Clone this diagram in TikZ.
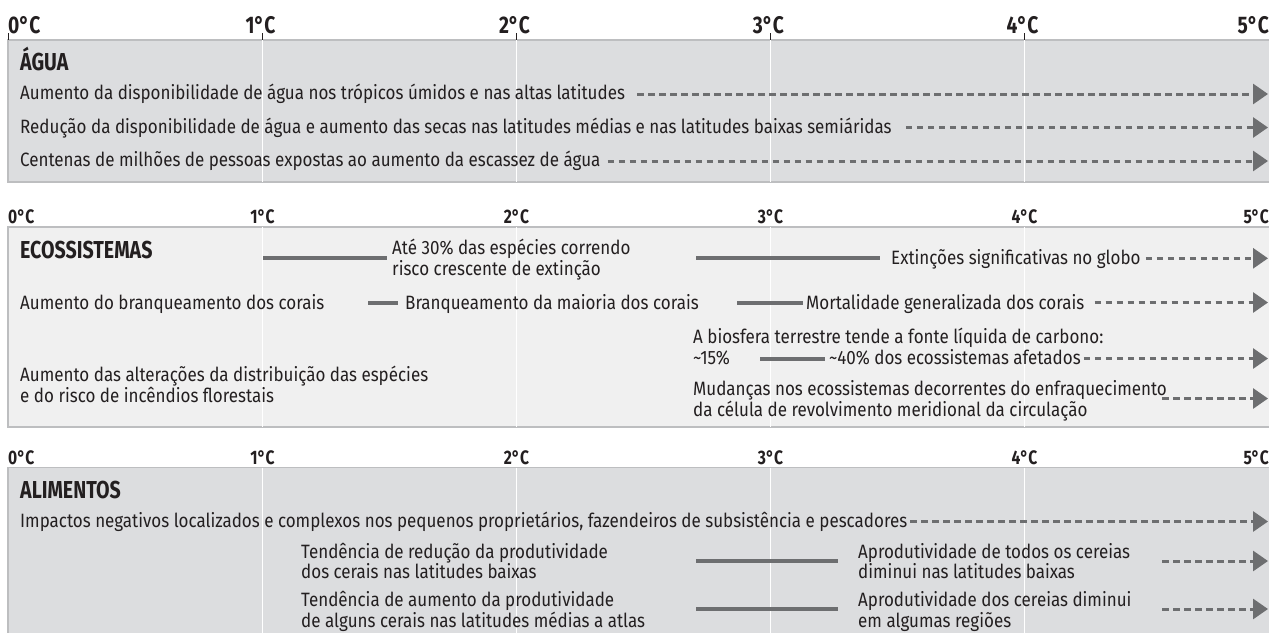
\documentclass[tikz,border=0pt]{standalone}
\usepackage{fontspec}
\setmainfont{Fira Sans}[FakeStretch=0.88]
\newfontfamily\headfont{Fira Sans}[FakeStretch=0.8]
\usetikzlibrary{arrows.meta}
\definecolor{panelA}{HTML}{DCDDDF}
\definecolor{panelB}{HTML}{F0F0F0}
\definecolor{frame}{HTML}{BDBEC0}
\definecolor{ink}{HTML}{231F20}
\definecolor{bar}{HTML}{6D6E70}
\tikzset{
 txt/.style={anchor=base west, inner sep=0pt, text=ink, align=left, font=\fontsize{19.3}{20.5}\selectfont},
 head/.style={anchor=base west, inner sep=0pt, text=ink, font=\headfont\bfseries\fontsize{24.5}{24.5}\selectfont},
 degA/.style={inner sep=0pt, text=ink, font=\headfont\bfseries\fontsize{24}{24}\selectfont},
 degB/.style={inner sep=0pt, text=ink, font=\headfont\bfseries\fontsize{19.5}{19.5}\selectfont},
 dasharrow/.style={draw=bar, line width=3pt, dash pattern=on 6.5pt off 4.5pt, -{Triangle[length=15pt,width=20pt]}},
 solidbar/.style={draw=bar, line width=4pt},
 gridline/.style={draw=white, line width=1.2pt},
 frameline/.style={draw=frame, line width=1.5pt},
 tickline/.style={draw=ink, line width=1pt},
}
\begin{document}
\begin{tikzpicture}[x=1pt,y=-1pt]
\useasboundingbox (0,0) rectangle (1269,632);

% ---------- panel 1: AGUA ----------
\fill[panelA] (8,40) rectangle (1275,182);
\draw[frameline] (1275,40) -- (8,40) -- (8,182) -- (1275,182);
\foreach \t in {262.5,516.5,770.5,1024.5} \draw[gridline] (\t,40) -- (\t,182);
\foreach \t in {8.5,262.5,516.5,770.5,1024.5} \draw[tickline] (\t,33) -- (\t,40);
\node[degA, anchor=base west] (p1d0) at (8,33) {0°C};
\node[degA, anchor=base] (p1d1) at (260.5,33) {1°C};
\node[degA, anchor=base] (p1d2) at (514.5,33) {2°C};
\node[degA, anchor=base] (p1d3) at (768.5,33) {3°C};
\node[degA, anchor=base] (p1d4) at (1022.5,33) {4°C};
\node[degA, anchor=base east] (p1d5) at (1269,33) {5°C};

\node[head] (agua) at (20,70) {ÁGUA};
\node[txt] (a1) at (20,99.5) {Aumento da disponibilidade de água nos trópicos úmidos e nas altas latitudes};
\node[txt] (a2) at (20,133) {Redução da disponibilidade de água e aumento das secas nas latitudes médias e nas latitudes baixas semiáridas};
\node[txt] (a3) at (20,166.5) {Centenas de milhões de pessoas expostas ao aumento da escassez de água};
\coordinate (a1e) at (1268,94);
\coordinate (a2e) at (1268,127.5);
\coordinate (a3e) at (1268,161);
\draw[dasharrow] ([xshift=12pt]a1.east |- a1e) -- (a1e);
\draw[dasharrow] ([xshift=14pt]a2.east |- a2e) -- (a2e);
\draw[dasharrow] ([xshift=7pt]a3.east |- a3e) -- (a3e);

% ---------- panel 2: ECOSSISTEMAS ----------
\fill[panelB] (8,227) rectangle (1275,427);
\draw[frameline] (1275,227) -- (8,227) -- (8,427) -- (1275,427);
\foreach \t in {262.5,516.5,770.5,1024.5} \draw[gridline] (\t,227) -- (\t,427);
\node[degB, anchor=base west] (p2d0) at (8,223) {0°C};
\node[degB, anchor=base] (p2d1) at (262.5,223) {1°C};
\node[degB, anchor=base] (p2d2) at (516.5,223) {2°C};
\node[degB, anchor=base] (p2d3) at (770.5,223) {3°C};
\node[degB, anchor=base] (p2d4) at (1024.5,223) {4°C};
\node[degB, anchor=base east] (p2d5) at (1269,223) {5°C};

\node[head] (eco) at (20,258) {ECOSSISTEMAS};
\coordinate (b1s) at (263,258);
\coordinate (b1m) at (387,258);
\draw[solidbar] (b1s) -- (b1m);
\node[txt] (e1) at (392,275) {Até 30\% das espécies correndo\\risco crescente de extinção};
\coordinate (b2s) at (696,258);
\coordinate (b2m) at (880,258);
\draw[solidbar] (b2s) -- (b2m);
\node[txt] (e2) at (891,264.5) {Extinções significativas no globo};
\coordinate (e2e) at (1268,258.3);
\draw[dasharrow] ([xshift=5pt]e2.east |- e2e) -- (e2e);

\node[txt] (c1) at (20,309) {Aumento do branqueamento dos corais};
\coordinate (c1s) at (368,302.5);
\coordinate (c1m) at (398,302.5);
\draw[solidbar] (c1s) -- (c1m);
\node[txt] (c2) at (405,309) {Branqueamento da maioria dos corais};
\coordinate (c2s) at (737,302.5);
\coordinate (c2m) at (803,302.5);
\draw[solidbar] (c2s) -- (c2m);
\node[txt] (c3) at (806,309) {Mortalidade generalizada dos corais};
\coordinate (c3e) at (1268,302.5);
\draw[dasharrow] ([xshift=10pt]c3.east |- c3e) -- (c3e);

\node[txt] (f1) at (693,343) {A biosfera terrestre tende a fonte líquida de carbono:};
\node[txt] (f2) at (693,364.5) {\textasciitilde15\%};
\coordinate (f2s) at (760,359);
\coordinate (f2m) at (825,359);
\draw[solidbar] (f2s) -- (f2m);
\node[txt] (f3) at (829,364.5) {\textasciitilde40\% dos ecossistemas afetados};
\coordinate (f3e) at (1268,358.5);
\draw[dasharrow] ([xshift=3pt]f3.east |- f3e) -- (f3e);

\node[txt] (g1) at (20,402) {Aumento das alterações da distribuição das espécies\\e do risco de incêndios florestais};

\node[txt] (h1) at (693,416) {Mudanças nos ecossistemas decorrentes do enfraquecimento\\da célula de revolvimento meridional da circulação};
\coordinate (h1s) at (1162,398.5);
\coordinate (h1e) at (1268,398.5);
\draw[dasharrow] (h1s) -- (h1e);

% ---------- panel 3: ALIMENTOS ----------
\fill[panelA] (8,467.5) rectangle (1275,635);
\draw[frameline] (1275,467.5) -- (8,467.5) -- (8,635);
\foreach \t in {262.5,516.5,770.5,1024.5} \draw[gridline] (\t,467.5) -- (\t,635);
\node[degB, anchor=base west] (p3d0) at (8,464) {0°C};
\node[degB, anchor=base] (p3d1) at (262.5,464) {1°C};
\node[degB, anchor=base] (p3d2) at (516.5,464) {2°C};
\node[degB, anchor=base] (p3d3) at (770.5,464) {3°C};
\node[degB, anchor=base] (p3d4) at (1024.5,464) {4°C};
\node[degB, anchor=base east] (p3d5) at (1269,464) {5°C};

\node[head] (alim) at (20,498.5) {ALIMENTOS};
\node[txt] (k1) at (20,527.5) {Impactos negativos localizados e complexos nos pequenos proprietários, fazendeiros de subsistência e pescadores};
\coordinate (k1e) at (1268,521.5);
\draw[dasharrow] ([xshift=3pt]k1.east |- k1e) -- (k1e);

\node[txt] (m1) at (301,578.5) {Tendência de redução da produtividade\\dos cerais nas latitudes baixas};
\coordinate (m1s) at (696,561);
\coordinate (m1m) at (838,561);
\draw[solidbar] (m1s) -- (m1m);
\node[txt] (m2) at (858,578.5) {Aprodutividade de todos os cereias\\diminui nas latitudes baixas};
\coordinate (m2s) at (1162,561);
\coordinate (m2e) at (1268,561);
\draw[dasharrow] (m2s) -- (m2e);

\node[txt] (n1) at (301,627) {Tendência de aumento da produtividade\\de alguns cerais nas latitudes médias a atlas};
\coordinate (n1s) at (696,609);
\coordinate (n1m) at (838,609);
\draw[solidbar] (n1s) -- (n1m);
\node[txt] (n2) at (858,627) {Aprodutividade dos cereias diminui\\em algumas regiões};
\coordinate (n2s) at (1162,609);
\coordinate (n2e) at (1268,609);
\draw[dasharrow] (n2s) -- (n2e);
\end{tikzpicture}
\end{document}
